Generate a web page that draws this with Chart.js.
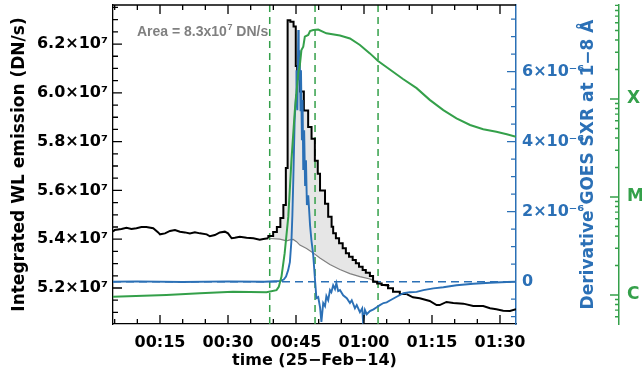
<!DOCTYPE html>
<html>
<head>
<meta charset="utf-8">
<script src="https://cdn.jsdelivr.net/npm/chart.js@4.4.0/dist/chart.umd.min.js"></script>
<style>
  body { margin: 0; background: #fff; }
  #wrap { width: 642px; height: 377px; }
</style>
</head>
<body>
<div id="wrap"><canvas id="flareChart" width="642" height="377"></canvas></div>
<script>
// times are minutes after 00:00 UT, 25-Feb-14

// integrated white-light emission, units of 1e7 DN/s
const wlTimes = [4.63, 5.0, 6.5, 7.6, 8.7, 9.8, 10.9, 12.0, 13.5, 14.6, 15.0, 16.1, 17.2, 18.3, 19.4,
  20.5, 21.6, 22.7, 23.8, 25.3, 26.0, 27.1, 28.2, 29.3, 30.0, 30.8, 31.5, 32.6, 34.1, 35.6, 37.0,
  37.8, 38.9, 39.96, 40.78, 41.55, 42.21, 42.76, 43.15, 43.75, 44.46, 44.95, 45.25, 45.9, 46.73,
  47.68, 48.43, 49.16, 49.8, 50.3, 51.4, 52.1, 52.85, 53.2, 53.8, 54.5, 55.3, 56.0, 56.7, 57.5,
  58.2, 58.9, 59.7, 60.4, 61.3, 62.0, 62.9, 63.9, 65.3, 66.4, 67.9, 69.4, 70.8, 72.3, 74.5, 76.0,
  76.7, 78.2, 79.7, 81.9, 84.1, 86.3, 87.8, 89.2, 90.7, 92.2, 93.53];
const wlValues = [5.431, 5.438, 5.442, 5.447, 5.442, 5.445, 5.450, 5.450, 5.445, 5.428, 5.420, 5.424,
  5.434, 5.438, 5.431, 5.428, 5.424, 5.428, 5.424, 5.420, 5.412, 5.417, 5.428, 5.431, 5.424, 5.404,
  5.406, 5.410, 5.406, 5.404, 5.398, 5.401, 5.404, 5.413, 5.430, 5.450, 5.487, 5.540, 5.692, 6.298,
  6.291, 6.272, 6.110, 6.088, 6.005, 5.928, 5.860, 5.812, 5.722, 5.668, 5.600, 5.545, 5.492, 5.451,
  5.424, 5.404, 5.383, 5.363, 5.342, 5.328, 5.315, 5.301, 5.287, 5.274, 5.263, 5.249, 5.226, 5.219,
  5.212, 5.199, 5.185, 5.175, 5.162, 5.158, 5.147, 5.130, 5.130, 5.143, 5.139, 5.136, 5.126, 5.126,
  5.117, 5.113, 5.107, 5.106, 5.113];

// the 45 s cadence steps are only visible around the flare
const STEP_START = 38.9;
const STEP_END = 69.4;

// pre-flare background under the white-light peak
const bgTimes = [39.24, 41.44, 42.92, 43.65, 44.38, 45.12, 45.85, 47.33, 48.79, 50.27, 52.47, 54.68,
  56.88, 59.09, 61.3, 62.77, 63.88, 64.98, 65.7];
const bgValues = [5.403, 5.400, 5.393, 5.397, 5.399, 5.390, 5.376, 5.362, 5.344, 5.323, 5.296, 5.276,
  5.259, 5.247, 5.237, 5.225, 5.214, 5.208, 5.210];

// time derivative of GOES 1-8 A flux, units of 1e-6
const derivTimes = [4.63, 10, 20, 30, 38, 41.5, 42.3, 42.8, 43.27, 43.65, 44.0, 44.2, 44.4, 44.7, 45.0,
  45.1, 45.3, 45.5, 45.6, 45.8, 46.0, 46.1, 46.3, 46.45, 46.6, 46.8, 47.0, 47.2, 47.4, 47.7, 48.1,
  48.4, 48.8, 49.2, 49.5, 49.9, 50.3, 50.6, 51.0, 51.4, 51.7, 52.1, 52.5, 52.8, 53.2, 53.6, 53.9,
  54.3, 54.7, 55.4, 56.2, 56.9, 57.3, 58.0, 58.4, 59.1, 59.6, 59.8, 60.2, 60.6, 61.3, 62.1, 62.8,
  63.5, 64.3, 65.0, 65.8, 67.2, 68.7, 70.1, 71.6, 73.1, 75.3, 77.5, 80.4, 84.1, 87.8, 91.5, 93.53];
const derivValues = [0, 0.01, -0.01, 0.01, 0, 0.02, 0.06, 0.15, 0.33, 0.56, 1.19, 1.9, 2.9, 4.6, 5.33,
  6.04, 4.9, 7.19, 5.76, 6.61, 4.9, 6.04, 4.04, 5.19, 3.19, 4.33, 2.76, 3.47, 2.19, 2.47, 1.61,
  1.19, 0.76, 0.04, -0.47, -0.44, -0.73, -1.15, -0.61, -0.7, -0.41, -0.53, -0.24, -0.3, -0.1, -0.21,
  -0.04, -0.27, -0.24, -0.39, -0.47, -0.61, -0.53, -0.76, -0.67, -0.87, -0.76, -1.15, -0.81, -0.93,
  -0.84, -0.79, -0.73, -0.67, -0.61, -0.59, -0.53, -0.43, -0.33, -0.3, -0.29, -0.24, -0.19, -0.16,
  -0.1, -0.06, -0.03, -0.01, 0];

// GOES 1-8 A flux, W m^-2
const goesTimes = [4.63, 16.4, 23.8, 31.1, 38.5, 40.7, 41.2, 41.8, 42.5, 43.3, 44.0, 44.75, 45.5,
  45.85, 46.2, 46.6, 46.95, 47.7, 48.1, 48.8, 49.9, 51.7, 54.7, 56.9, 59.1, 61.3, 63.1, 65.7, 68.6,
  71.6, 74.5, 77.5, 80.4, 83.4, 86.3, 89.2, 91.5, 93.53];
const goesFlux = [9.6e-7, 1.0e-6, 1.04e-6, 1.08e-6, 1.07e-6, 1.12e-6, 1.21e-6, 1.54e-6, 2.67e-6,
  6.3e-6, 2.39e-5, 7.7e-5, 1.83e-4, 2.22e-4, 3.16e-4, 3.42e-4, 4.33e-4, 4.5e-4, 4.94e-4, 5.06e-4,
  5.12e-4, 4.68e-4, 4.45e-4, 4.14e-4, 3.56e-4, 2.92e-4, 2.44e-4, 2.0e-4, 1.6e-4, 1.29e-4, 9.8e-5,
  7.7e-5, 6.35e-5, 5.43e-5, 4.91e-5, 4.64e-5, 4.36e-5, 4.12e-5];

const markerTimes = [39.2, 49.2, 63.1];

const timeTicks = [15, 30, 45, 60, 75, 90];
const timeLabels = ['00:15', '00:30', '00:45', '01:00', '01:15', '01:30'];
const wlTicks = [5.2, 5.4, 5.6, 5.8, 6.0, 6.2];
const derivTicks = [0, 2, 4, 6];
const goesTicks = [1e-6, 1e-5, 1e-4];
const goesClasses = ['C', 'M', 'X'];

const T_MIN = 4.63, T_MAX = 93.53;
const WL_MIN = 5.0525, WL_MAX = 6.36;
const D_MIN = -1.209, D_MAX = 7.906;
const G_MIN = 5.06e-7, G_MAX = 9.1e-4;

const BLUE = '#2b70b6';
const GREEN = '#34a04a';

function toPoints(times, values) {
  return times.map((t, i) => ({ x: t, y: values[i] }));
}

const wlPoints = toPoints(wlTimes, wlValues);
const wlBefore = wlPoints.filter(p => p.x <= STEP_START);
const wlSteps = wlPoints.filter(p => p.x >= STEP_START && p.x <= STEP_END);
const wlAfter = wlPoints.filter(p => p.x >= STEP_END);
const bgPoints = toPoints(bgTimes, bgValues);
const fillPoints = wlPoints.filter(p => p.x >= bgTimes[0] && p.x <= bgTimes[bgTimes.length - 1]);

Chart.defaults.font.family = 'DejaVu Sans';
Chart.defaults.font.weight = 'bold';
Chart.defaults.font.size = 16;

const tickFont = { family: 'DejaVu Sans', weight: 'bold', size: 16 };

// IDL-style inward ticks, top frame and extra labels
const axisDecor = {
  id: 'axisDecor',
  afterDraw(chart) {
    const { ctx, chartArea: a, scales } = chart;
    ctx.save();
    ctx.lineWidth = 1.3;

    ctx.strokeStyle = '#000';
    ctx.beginPath();
    ctx.moveTo(a.left, a.top);
    ctx.lineTo(a.right, a.top);
    ctx.stroke();

    ctx.beginPath();
    for (let m = 5; m <= 90; m += 5) {
      const px = scales.x.getPixelForValue(m);
      const len = m % 15 === 0 ? 9 : 5;
      ctx.moveTo(px, a.bottom); ctx.lineTo(px, a.bottom - len);
      ctx.moveTo(px, a.top); ctx.lineTo(px, a.top + len);
    }
    for (let k = 102; k <= 127; k++) {
      const py = scales.y.getPixelForValue(k * 0.05);
      const len = k % 4 === 0 ? 9 : 5;
      ctx.moveTo(a.left, py); ctx.lineTo(a.left + len, py);
    }
    ctx.stroke();

    ctx.strokeStyle = BLUE;
    ctx.beginPath();
    for (let k = -2; k <= 15; k++) {
      const py = scales.yDeriv.getPixelForValue(k * 0.5);
      const len = k % 4 === 0 ? 9 : 5;
      ctx.moveTo(a.right, py); ctx.lineTo(a.right - len, py);
    }
    ctx.stroke();

    ctx.strokeStyle = GREEN;
    const gx = scales.yGoes.left;
    ctx.beginPath();
    for (let d = -7; d <= -4; d++) {
      for (let m = 1; m <= 9; m++) {
        const v = m * Math.pow(10, d);
        if (v < G_MIN || v > G_MAX) continue;
        const py = scales.yGoes.getPixelForValue(v);
        const len = m === 1 ? 9 : 4;
        ctx.moveTo(gx, py); ctx.lineTo(gx - len, py);
      }
    }
    ctx.stroke();

    // right axis title reads bottom to top
    ctx.fillStyle = BLUE;
    ctx.font = 'bold 17px "DejaVu Sans"';
    ctx.textAlign = 'center';
    ctx.textBaseline = 'middle';
    ctx.translate(589, (a.top + a.bottom) / 2);
    ctx.rotate(-Math.PI / 2);
    ctx.fillText('Derivative GOES SXR at 1\u22128 \u00c5', 0, 0);
    ctx.setTransform(1, 0, 0, 1, 0, 0);

    // area annotation
    ctx.fillStyle = '#808080';
    ctx.textAlign = 'left';
    ctx.textBaseline = 'alphabetic';
    ctx.font = 'bold 14px "Liberation Sans"';
    let tx = 137;
    const ty = 36;
    const part1 = 'Area = 8.3x10';
    ctx.fillText(part1, tx, ty);
    tx += ctx.measureText(part1).width;
    ctx.font = 'bold 9px "Liberation Sans"';
    ctx.fillText('7', tx + 0.5, ty - 6);
    tx += ctx.measureText('7').width + 0.5;
    ctx.font = 'bold 14px "Liberation Sans"';
    ctx.fillText(' DN/s', tx, ty);
    ctx.restore();
  }
};

const datasets = [
  {
    label: 'GOES 1-8 A',
    data: toPoints(goesTimes, goesFlux),
    yAxisID: 'yGoes',
    borderColor: GREEN,
    borderWidth: 2,
    order: 0
  },
  {
    label: 'Derivative',
    data: toPoints(derivTimes, derivValues),
    yAxisID: 'yDeriv',
    borderColor: BLUE,
    borderWidth: 1.9,
    order: 1
  },
  {
    label: 'WL emission (flare)',
    data: wlSteps,
    yAxisID: 'y',
    borderColor: '#000',
    borderWidth: 2,
    stepped: 'after',
    order: 2
  },
  {
    label: 'Background',
    data: bgPoints,
    yAxisID: 'y',
    borderColor: '#808080',
    borderWidth: 1.2,
    order: 3
  },
  {
    label: 'Area',
    data: fillPoints,
    yAxisID: 'y',
    borderWidth: 0,
    borderColor: 'rgba(0,0,0,0)',
    backgroundColor: '#e6e6e6',
    stepped: 'after',
    fill: 3,
    order: 6
  },
  {
    label: 'zero',
    data: [{ x: T_MIN, y: 0 }, { x: T_MAX, y: 0 }],
    yAxisID: 'yDeriv',
    borderColor: BLUE,
    borderWidth: 1.5,
    borderDash: [8, 5],
    order: 4
  },
  {
    label: 'WL emission (pre)',
    data: wlBefore,
    yAxisID: 'y',
    borderColor: '#000',
    borderWidth: 2,
    order: 2
  },
  {
    label: 'WL emission (post)',
    data: wlAfter,
    yAxisID: 'y',
    borderColor: '#000',
    borderWidth: 2,
    order: 2
  }
];

markerTimes.forEach(t => {
  datasets.push({
    label: 'marker',
    data: [{ x: t, y: WL_MIN }, { x: t, y: WL_MAX }],
    yAxisID: 'y',
    borderColor: GREEN,
    borderWidth: 1.5,
    borderDash: [7, 5],
    order: 5
  });
});

const ctx = document.getElementById('flareChart').getContext('2d');
new Chart(ctx, {
  type: 'line',
  data: { datasets: datasets },
  options: {
    responsive: false,
    animation: false,
    layout: { padding: { top: 5, left: 0, right: 0, bottom: 0 }, autoPadding: false },
    elements: { point: { radius: 0 }, line: { tension: 0 } },
    plugins: {
      legend: { display: false },
      tooltip: { enabled: false }
    },
    scales: {
      x: {
        type: 'linear',
        position: 'bottom',
        min: T_MIN,
        max: T_MAX,
        afterBuildTicks: s => { s.ticks = timeTicks.map(v => ({ value: v })); },
        ticks: {
          callback: (v, i) => timeLabels[i],
          color: '#000',
          font: tickFont,
          padding: 9,
          maxRotation: 0,
          autoSkip: false
        },
        grid: { drawOnChartArea: false, drawTicks: false },
        border: { color: '#000', width: 1.3 },
        title: {
          display: true,
          text: 'time (25\u2212Feb\u221214)',
          color: '#000',
          font: { family: 'DejaVu Sans', weight: 'bold', size: 16 },
          padding: { top: 0, bottom: 7 }
        },
        afterFit: s => { s.height = 53; s.paddingLeft = 0; s.paddingRight = 0; }
      },
      y: {
        type: 'linear',
        position: 'left',
        min: WL_MIN,
        max: WL_MAX,
        afterBuildTicks: s => { s.ticks = wlTicks.map(v => ({ value: v })); },
        ticks: {
          callback: v => v.toFixed(1) + '\u00d710\u2077',
          color: '#000',
          font: tickFont,
          padding: 5,
          autoSkip: false
        },
        grid: { drawOnChartArea: false, drawTicks: false },
        border: { color: '#000', width: 1.3 },
        title: {
          display: true,
          text: 'Integrated WL emission (DN/s)',
          color: '#000',
          font: { family: 'DejaVu Sans', weight: 'bold', size: 17 },
          padding: { top: 9, bottom: 0 }
        },
        afterFit: s => { s.width = 113; s.paddingTop = 0; s.paddingBottom = 0; }
      },
      yDeriv: {
        type: 'linear',
        position: 'right',
        weight: 0,
        min: D_MIN,
        max: D_MAX,
        afterBuildTicks: s => { s.ticks = derivTicks.map(v => ({ value: v })); },
        ticks: {
          callback: v => v === 0 ? '0' : Math.round(v) + '\u00d710\u207b\u2076',
          color: BLUE,
          font: tickFont,
          padding: 6,
          autoSkip: false
        },
        grid: { drawOnChartArea: false, drawTicks: false },
        border: { color: BLUE, width: 1.5 },
        afterFit: s => { s.width = 103; s.paddingTop = 0; s.paddingBottom = 0; }
      },
      yGoes: {
        type: 'logarithmic',
        position: 'right',
        weight: 1,
        min: G_MIN,
        max: G_MAX,
        afterBuildTicks: s => { s.ticks = goesTicks.map(v => ({ value: v })); },
        ticks: {
          callback: (v, i) => goesClasses[i],
          color: GREEN,
          font: { family: 'DejaVu Sans', weight: 'bold', size: 17 },
          padding: 8,
          autoSkip: false
        },
        grid: { drawOnChartArea: false, drawTicks: false },
        border: { color: GREEN, width: 1.5 },
        afterFit: s => { s.width = 23; s.paddingTop = 0; s.paddingBottom = 0; }
      }
    }
  },
  plugins: [axisDecor]
});
</script>
</body>
</html>
